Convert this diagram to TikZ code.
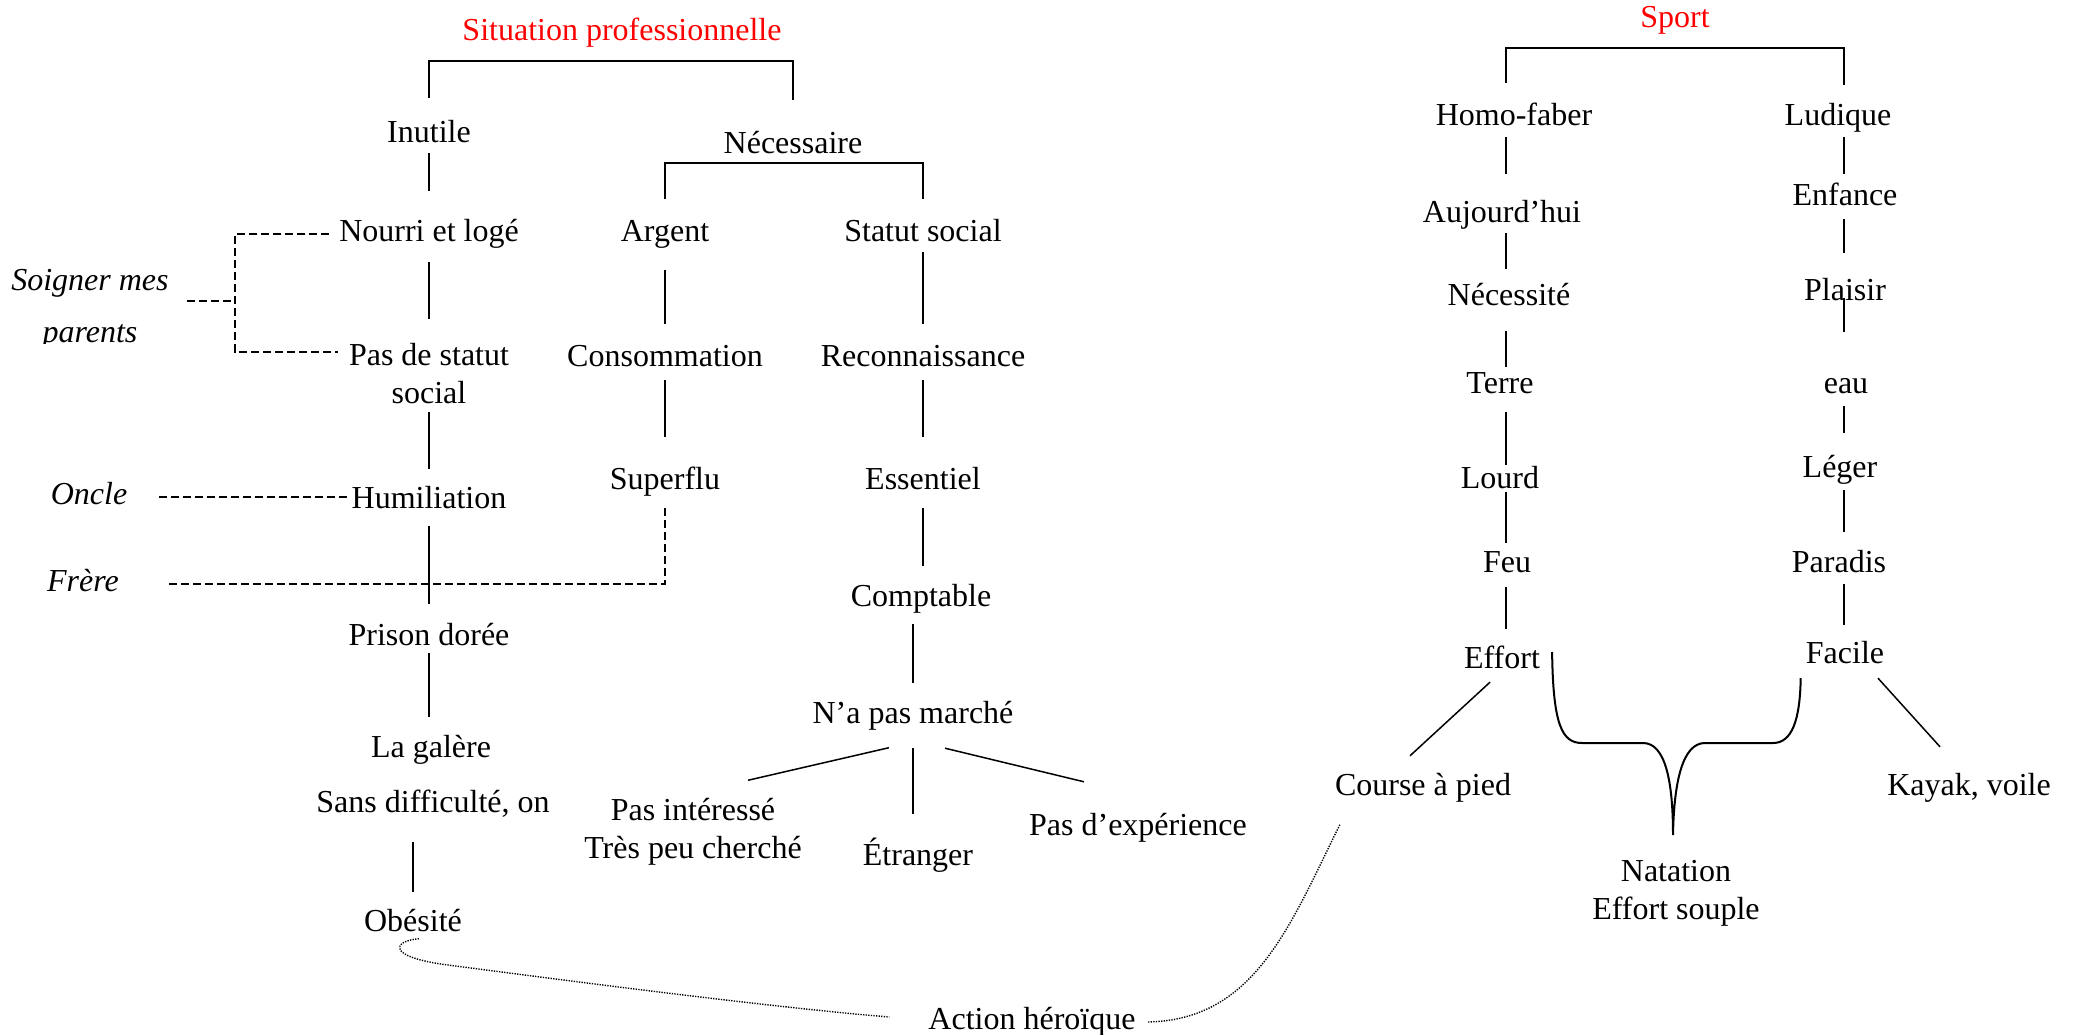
\documentclass[tikz,border=0pt]{standalone}
\usepackage{fontspec}
\setmainfont{Liberation Serif}

\begin{document}
\begin{tikzpicture}[x=1pt, y=-1pt,
    font=\fontsize{32}{38}\selectfont,
    mot/.style={inner sep=0pt, text height=22pt, text depth=7pt},
    bloc/.style={inner sep=0pt, align=center},
    titre/.style={mot, text=red},
    italique/.style={font=\fontsize{32}{38}\selectfont\itshape},
    lien/.style 2 args={draw, line width=1.5pt, shorten <=#1, shorten >=#2},
    crochet/.style 2 args={draw, line width=2pt, shorten <=#1, shorten >=#2},
    tirets/.style={draw, line width=2pt, dash pattern=on 8pt off 4pt},
    pointille/.style={draw, line width=1.4pt, dash pattern=on 1.3pt off 1.3pt},
    accolade/.style={draw, line width=2pt}]
  \useasboundingbox (0,0) rectangle (2073,1035);

  % situation professionnelle
  \node[titre] (sitpro) at (622,33) {Situation professionnelle};
  \node[mot] (inutile) at (429,135) {Inutile};
  \node[mot] (necess) at (793,146) {Nécessaire};
  \node[mot] (nourri) at (429,234) {Nourri et logé};
  \node[mot] (argent) at (665,234) {Argent};
  \node[mot] (statut) at (923,234) {Statut social};
  \node[bloc] (passtatut) at (429,374) {Pas de statut\\social};
  \node[mot] (conso) at (665,359) {Consommation};
  \node[mot] (reconn) at (923,359) {Reconnaissance};
  \node[mot] (superflu) at (665,482) {Superflu};
  \node[mot] (essentiel) at (923,482) {Essentiel};
  \node[mot] (humil) at (429,501) {Humiliation};
  \node[mot] (comptable) at (921,599) {Comptable};
  \node[mot] (prison) at (429,638) {Prison dorée};
  \node[mot] (napas) at (913,716) {N’a pas marché};
  \node[mot] (galere) at (431,750) {La galère};
  \node[mot] (sansdiff) at (433,805) {Sans difficulté, on};
  \node[bloc] (pasint) at (693,832) {Pas intéressé\\Très peu cherché};
  \node[mot] (etranger) at (918,858) {Étranger};
  \node[mot] (pasexp) at (1138,828) {Pas d’expérience};
  \node[mot] (obesite) at (413,924) {Obésité};
  \node[mot] (action) at (1032,1022) {Action héroïque};

  \begin{scope}
    \clip (0,0) rectangle (220,343);
    \node[bloc, italique] (soigner) at (90,309) {Soigner mes\\[14pt]parents};
  \end{scope}
  \node[mot, italique] (oncle) at (89,497) {Oncle};
  \node[mot, italique] (frere) at (83,584) {Frère};
  \coordinate (soin) at (235,301);

  \path[crochet={22.5pt}{31.5pt}] (inutile.north) |- ([yshift=-13.5pt]sitpro.south) -| (necess.north);
  \path[crochet={20pt}{20pt}] (argent.north) |- ([yshift=-2.5pt]necess.south) -| (statut.north);

  \path[lien={3.5pt}{28.5pt}] (inutile.south) -- (inutile.south |- nourri.north);
  \path[lien={13.5pt}{25pt}] (nourri.south) -- (nourri.south |- passtatut.north);
  \path[lien={8pt}{17.5pt}] (passtatut.south) -- (passtatut.south |- humil.north);
  \path[lien={10pt}{19.5pt}] (humil.south) -- (humil.south |- prison.north);
  \path[lien={0.5pt}{18.5pt}] (prison.south) -- (prison.south |- galere.north);
  \path[lien={22.5pt}{17.5pt}] (obesite.north |- sansdiff.south) -- (obesite.north);
  \path[lien={21.5pt}{20.5pt}] (argent.south) -- (argent.south |- conso.north);
  \path[lien={3.5pt}{20.5pt}] (statut.south) -- (statut.south |- reconn.north);
  \path[lien={6.5pt}{30.5pt}] (conso.south) -- (conso.south |- superflu.north);
  \path[lien={6.5pt}{30.5pt}] (reconn.south) -- (reconn.south |- essentiel.north);
  \path[lien={11.5pt}{18.5pt}] (essentiel.south) -- (essentiel.south |- comptable.north);
  \path[lien={10.5pt}{18.5pt}] (napas.north |- comptable.south) -- (napas.north);
  \path[lien={17.5pt}{29.5pt}] (napas.south) -- (napas.south |- etranger.north);
  \path[lien={0pt}{0pt}] ([shift={(-24,17)}]napas.south) -- ([shift={(55,-18)}]pasint.north);
  \path[lien={0pt}{0pt}] ([shift={(32,17.5)}]napas.south) -- ([shift={(-54,-31.5)}]pasexp.north);

  \path[tirets] ([xshift=-10pt]nourri.west) -| (soin) |- ([shift={(-11,8)}]passtatut.north west);
  \path[tirets, shorten <=18pt] (soigner.east |- soin) -- (soin);
  \path[tirets, shorten <=32pt, shorten >=4.5pt] (oncle.east) -- (oncle.east -| humil.west);
  \path[tirets, shorten <=50pt, shorten >=11.5pt] (frere.east) -| (superflu.south);

  \path[pointille] ([xshift=6pt]obesite.south) .. controls (392,941) and (386,957) .. (448,965)
    .. controls (600,985) and (780,1008) .. ([shift={(-39,-5)}]action.west);

  % sport
  \node[titre] (sport) at (1675,20) {Sport};
  \node[mot] (homo) at (1514,118) {Homo-faber};
  \node[mot] (ludique) at (1838,118) {Ludique};
  \node[mot] (aujourd) at (1502,215) {Aujourd’hui};
  \node[mot] (enfance) at (1845,198) {Enfance};
  \node[mot] (necessite) at (1509,298) {Nécessité};
  \node[mot] (plaisir) at (1845,293) {Plaisir};
  \node[mot] (terre) at (1500,386) {Terre};
  \node[mot] (eau) at (1846,386) {eau};
  \node[mot] (lourd) at (1500,481) {Lourd};
  \node[mot] (leger) at (1840,470) {Léger};
  \node[mot] (feu) at (1507,565) {Feu};
  \node[mot] (paradis) at (1839,565) {Paradis};
  \node[mot] (effort) at (1502,661) {Effort};
  \node[mot] (facile) at (1845,656) {Facile};
  \node[mot] (course) at (1423,788) {Course à pied};
  \node[mot] (kayak) at (1969,788) {Kayak, voile};
  \node[bloc] (natation) at (1676,893) {Natation\\Effort souple};
  \coordinate (colg) at (1506,0);
  \coordinate (cold) at (1844,0);

  \path[crochet={20.5pt}{18.5pt}] (colg |- homo.north) |- ([yshift=-13.5pt]sport.south) -| (cold |- ludique.north);

  \path[lien={4.5pt}{26.5pt}] (colg |- homo.south) -- (colg |- aujourd.north);
  \path[lien={3.5pt}{14.5pt}] (colg |- aujourd.south) -- (colg |- necessite.north);
  \path[lien={18.5pt}{4.5pt}] (colg |- necessite.south) -- (colg |- terre.north);
  \path[lien={11.5pt}{1.5pt}] (colg |- terre.south) -- (colg |- lourd.north);
  \path[lien={11pt}{7.5pt}] (colg |- lourd) -- (colg |- feu.north);
  \path[lien={7.5pt}{17.5pt}] (colg |- feu.south) -- (colg |- effort.north);

  \path[lien={4.5pt}{9.5pt}] (cold |- ludique.south) -- (cold |- enfance.north);
  \path[lien={6.5pt}{25.5pt}] (cold |- enfance.south) -- (cold |- plaisir.north);
  \path[lien={5pt}{39.5pt}] (cold |- plaisir) -- (cold |- eau.north);
  \path[lien={5.5pt}{22.5pt}] (cold |- eau.south) -- (cold |- leger.north);
  \path[lien={5.5pt}{18.5pt}] (cold |- leger.south) -- (cold |- paradis.north);
  \path[lien={4.5pt}{16.5pt}] (cold |- paradis.south) -- (cold |- facile.north);

  \path[lien={0pt}{0pt}] ([shift={(-12,6.5)}]effort.south) -- ([shift={(-13,-17.5)}]course.north);
  \path[lien={0pt}{0pt}] ([shift={(33,7.5)}]facile.south) -- ([shift={(-29,-26.5)}]kayak.north);

  \path[accolade] ([shift={(12,-9)}]effort.east) .. controls (1553,725) and (1562,743) .. (1582,743)
    -- (1643,743) .. controls (1665,743) and (1673,780) .. (1673,835)
    .. controls (1674,780) and (1683,743) .. (1705,743)
    -- (1773,743) .. controls (1792,743) and (1800,720) .. ([shift={(-5,7.5)}]facile.south west);

  \path[pointille] ([shift={(5,22)}]course.south west) .. controls (1290,925) and (1255,1020)
    .. ([xshift=12pt]action.east);
\end{tikzpicture}
\end{document}
